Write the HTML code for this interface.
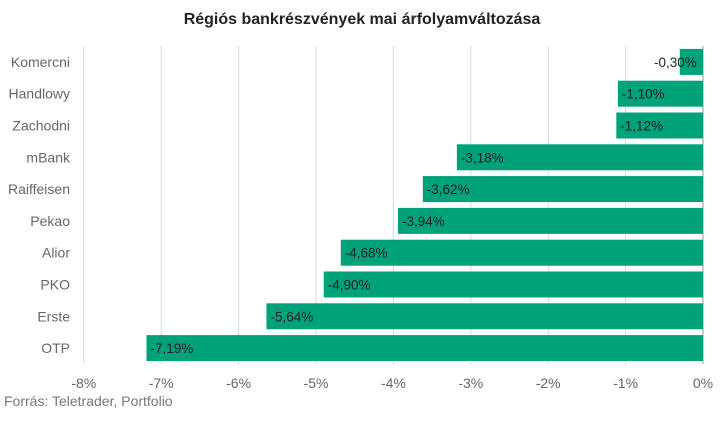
<!DOCTYPE html>
<html><head><meta charset="utf-8"><style>
body{margin:0;background:#fff;width:723px;height:418px;overflow:hidden;font-family:"Liberation Sans",sans-serif}
</style></head><body>
<svg width="723" height="418" id="c">
<text x="362" y="24" text-anchor="middle" font-size="16" font-weight="bold" fill="#222">Régiós bankrészvények mai árfolyamváltozása</text>
<text x="4" y="406" font-size="14" fill="#777">Forrás: Teletrader, Portfolio</text>
</svg>
<script>
const categories=["Komercni","Handlowy","Zachodni","mBank","Raiffeisen","Pekao","Alior","PKO","Erste","OTP"];
const values=[-0.30,-1.10,-1.12,-3.18,-3.62,-3.94,-4.68,-4.90,-5.64,-7.19];
const ticks=[-8,-7,-6,-5,-4,-3,-2,-1,0];
const svg=document.getElementById('c');const NS='http://www.w3.org/2000/svg';
const x=v=>703+v*77.4;
const top0=46,rowH=31.8;
function el(t,a){const e=document.createElementNS(NS,t);for(const k in a)e.setAttribute(k,a[k]);svg.appendChild(e);return e;}
ticks.forEach(t=>{
const g=el('line',{x1:x(t),x2:x(t),y1:46,y2:364,stroke:t===0?'#999':'#d9d9d9','stroke-width':1});


const l=el('text',{x:x(t),y:388,'text-anchor':'middle','font-size':14,fill:'#666'});
l.textContent=(t===0?'0':t)+'%';


});
categories.forEach((c,i)=>{
const cy=top0+rowH*(i+0.5);
const lb=el('text',{x:70,y:cy+5,'text-anchor':'end','font-size':14,fill:'#666'});
lb.textContent=c;


const v=values[i];
const b=el('rect',{x:x(v),y:cy-13,width:x(0)-x(v),height:26,fill:'#00a27a'});


const tx=Math.min(x(v)+4,654);
const vl=el('text',{x:tx,y:cy+5,'font-size':13.5,fill:'#222'});
vl.textContent=v.toFixed(2).replace('.',',')+'%';


});
</script>
</body></html>
